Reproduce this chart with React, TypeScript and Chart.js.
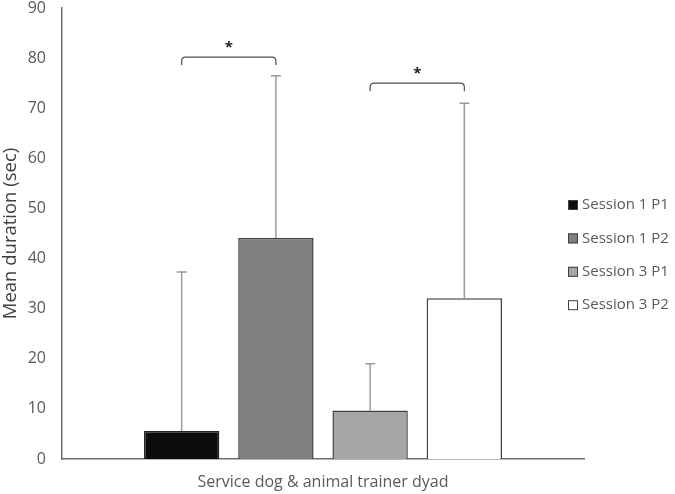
import React, { useEffect, useRef } from "react";
import { Chart, registerables } from "chart.js";

Chart.register(...registerables);

const categories = ["Service dog & animal trainer dyad"];
const seriesNames = ["Session 1 P1", "Session 1 P2", "Session 3 P1", "Session 3 P2"];
const meanValues = [5.6, 44.1, 9.7, 32.1];
const errorTops = [37.3, 76.5, 19.0, 71.0];
const seriesColors = ["#0d0d0d", "#7f7f7f", "#a6a6a6", "#ffffff"];
const bracketPairs = [[0, 1], [2, 3]];
const bracketLevels = [80.2, 75.0];
const bracketLabels = ["*", "*"];
const yMin = 0;
const yMax = 90;
const yStep = 10;

const FONT = "'Open Sans', 'Noto Sans', sans-serif";
const TEXT = "#595959";

const overlayPlugin = {
  id: "overlay",
  afterDatasetsDraw(chart: any) {
    const ctx = chart.ctx;
    const y = chart.scales.y;
    ctx.save();
    // error bars
    ctx.strokeStyle = "#9a9a9a";
    ctx.lineWidth = 1.5;
    seriesNames.forEach((_, i) => {
      const bar = chart.getDatasetMeta(i).data[0];
      const x = bar.x;
      const yt = y.getPixelForValue(errorTops[i]);
      ctx.beginPath();
      ctx.moveTo(x, bar.y);
      ctx.lineTo(x, yt);
      ctx.moveTo(x - 5, yt);
      ctx.lineTo(x + 5, yt);
      ctx.stroke();
    });
    // brackets
    ctx.strokeStyle = "#4d4d4d";
    ctx.lineWidth = 1.2;
    bracketPairs.forEach(([a, b], k) => {
      const x1 = chart.getDatasetMeta(a).data[0].x;
      const x2 = chart.getDatasetMeta(b).data[0].x;
      const yy = y.getPixelForValue(bracketLevels[k]);
      const r = 4;
      const d = 8;
      ctx.beginPath();
      ctx.moveTo(x1, yy + d);
      ctx.lineTo(x1, yy + r);
      ctx.quadraticCurveTo(x1, yy, x1 + r, yy);
      ctx.lineTo(x2 - r, yy);
      ctx.quadraticCurveTo(x2, yy, x2, yy + r);
      ctx.lineTo(x2, yy + d);
      ctx.stroke();
      ctx.fillStyle = "#1a1a1a";
      ctx.font = `bold 15px ${FONT}`;
      ctx.textAlign = "center";
      ctx.textBaseline = "middle";
      ctx.fillText(bracketLabels[k], (x1 + x2) / 2, yy - 9);
    });
    ctx.restore();
  },
  afterDraw(chart: any) {
    const ctx = chart.ctx;
    ctx.save();
    const startY = 205;
    const gap = 33.4;
    seriesNames.forEach((name, i) => {
      const cy = startY + i * gap;
      ctx.fillStyle = seriesColors[i];
      ctx.fillRect(568, cy - 5, 10, 10);
      ctx.strokeStyle = "#404040";
      ctx.lineWidth = 1;
      ctx.strokeRect(568.5, cy - 4.5, 9, 9);
      ctx.fillStyle = TEXT;
      ctx.font = `15px ${FONT}`;
      ctx.textAlign = "left";
      ctx.textBaseline = "middle";
      ctx.fillText(name, 582, cy);
    });
    ctx.restore();
  },
};

export default function App() {
  const ref = useRef<HTMLCanvasElement>(null);
  useEffect(() => {
    if (!ref.current) return;
    const chart = new Chart(ref.current, {
      type: "bar",
      data: {
        labels: categories,
        datasets: seriesNames.map((name, i) => ({
          label: name,
          data: [meanValues[i]],
          backgroundColor: seriesColors[i],
          borderColor: i === 0 ? "#262626" : "#404040",
          borderWidth: 1.5,
          categoryPercentage: 0.722,
          barPercentage: 0.8,
        })),
      },
      options: {
        responsive: false,
        animation: false,
        layout: { padding: { top: 8, right: 91, left: 0, bottom: 0 } },
        plugins: { legend: { display: false }, tooltip: { enabled: false } },
        scales: {
          x: {
            grid: { display: false, drawTicks: false },
            border: { display: true, color: "#6e6e6e", width: 1.5 },
            ticks: { color: TEXT, font: { family: FONT, size: 16 }, padding: 14 },
            afterFit: (s: any) => {
              s.height = 35;
              s.paddingLeft = 0;
              s.paddingRight = 0;
            },
          },
          y: {
            min: yMin,
            max: yMax,
            grid: { display: false, drawTicks: false },
            border: { display: true, color: "#6e6e6e", width: 1.5 },
            ticks: { stepSize: yStep, color: TEXT, font: { family: FONT, size: 16 }, padding: 16 },
            title: {
              display: true,
              text: "Mean duration (sec)",
              color: "#404040",
              font: { family: FONT, size: 18.5 },
              padding: { top: 0, bottom: 0 },
            },
            afterFit: (s: any) => {
              s.width = 62;
              s.paddingTop = 0;
              s.paddingBottom = 0;
            },
          },
        },
      },
      plugins: [overlayPlugin],
    });
    return () => chart.destroy();
  }, []);
  return (
    <div style={{ position: "absolute", left: 0, top: 0, width: 675, height: 494, background: "#fff" }}>
      <canvas ref={ref} width={675} height={494} />
    </div>
  );
}
